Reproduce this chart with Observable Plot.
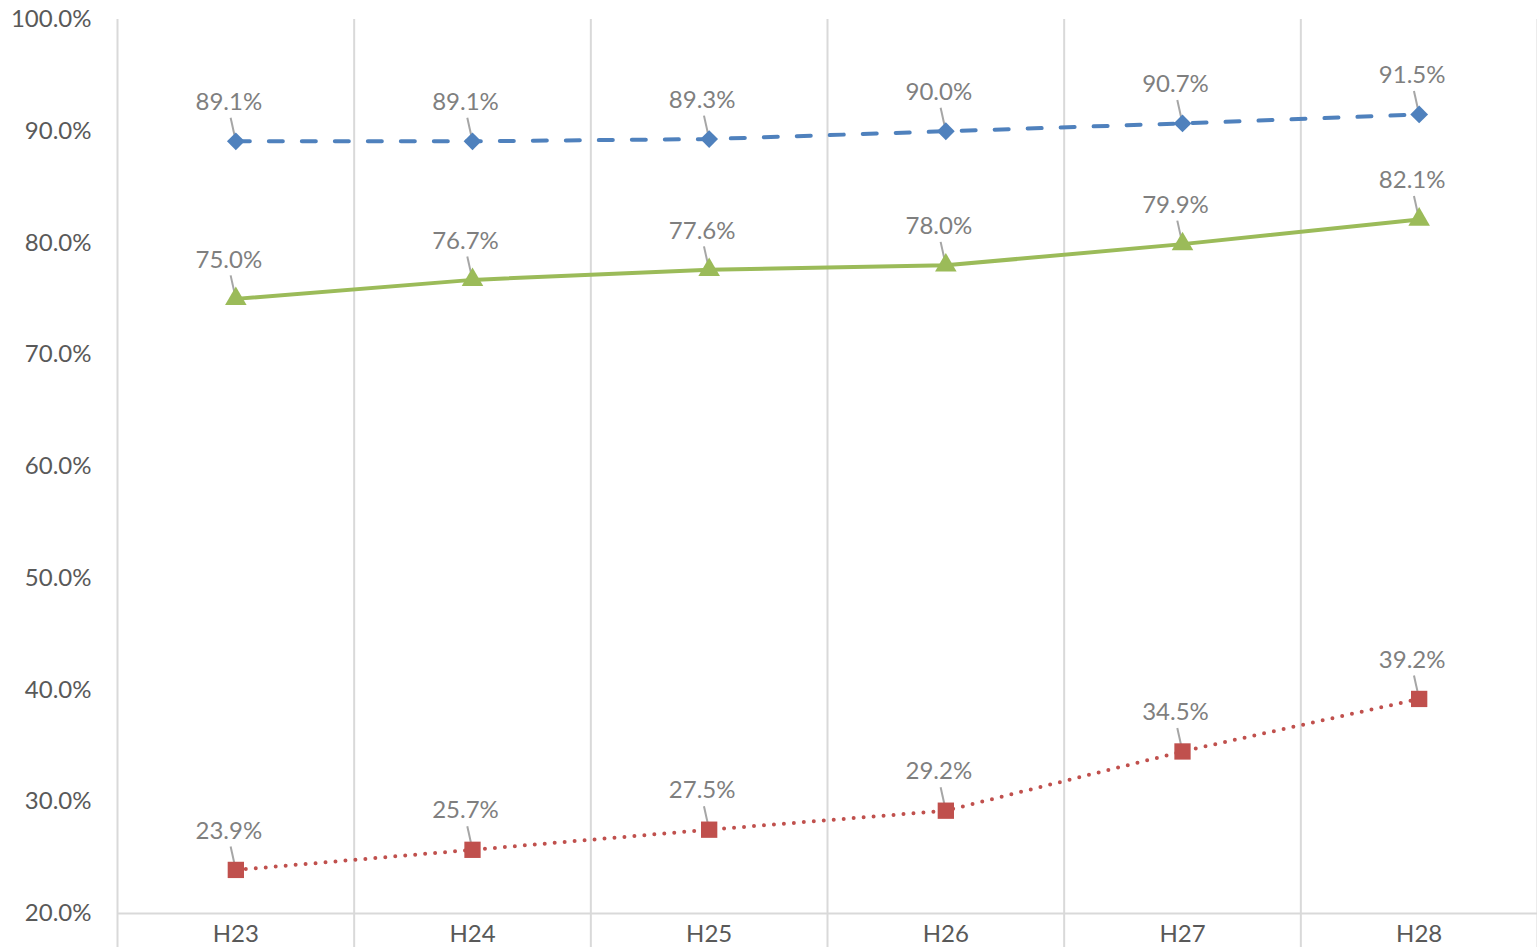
<!DOCTYPE html>
<html>
<head>
<meta charset="utf-8">
<script src="https://cdn.jsdelivr.net/npm/d3@7"></script>
<script src="https://cdn.jsdelivr.net/npm/@observablehq/plot@0.6"></script>
<style>
  html, body { margin: 0; padding: 0; background: #fff; }
  #chart svg { display: block; }
</style>
</head>
<body>
<div id="chart"></div>
<script>
const categories = ["H23", "H24", "H25", "H26", "H27", "H28"];
const seriesBlue = [89.1, 89.1, 89.3, 90.0, 90.7, 91.5];
const seriesGreen = [75.0, 76.7, 77.6, 78.0, 79.9, 82.1];
const seriesRed = [23.9, 25.7, 27.5, 29.2, 34.5, 39.2];
const yTicks = [20, 30, 40, 50, 60, 70, 80, 90, 100];

const series = [
  {name: "blue", values: seriesBlue, color: "#4f81bd", dash: "14 19", symbol: "diamond2", r: 8},
  {name: "green", values: seriesGreen, color: "#9bbb59", dash: null, symbol: "triangle", r: 8},
  {name: "red", values: seriesRed, color: "#c0504d", dash: "0 10", symbol: "square", r: 9.2}
];

const marks = [
  Plot.ruleX(d3.range(categories.length + 1).map(i => i - 0.5), {y1: 100, y2: 16.9, stroke: "#d9d9d9", strokeWidth: 2}),
  Plot.ruleY([20], {x1: -0.5, x2: categories.length - 0.5, stroke: "#d9d9d9", strokeWidth: 2}),
  Plot.text(yTicks, {x: -0.5, y: d => d, dx: -26, textAnchor: "end", text: d => d.toFixed(1) + "%", fill: "#595959", fontSize: 24}),
  Plot.text(categories, {x: (d, i) => i, y: 20, dy: 21, text: d => d, fill: "#595959", fontSize: 24})
];

for (const s of series) {
  const data = s.values.map((v, i) => ({i, v}));
  marks.push(
    Plot.link(data, {x1: d => d.i - 0.022, y1: d => d.v + 2.1, x2: d => d.i, y2: d => d.v, stroke: "#a6a6a6", strokeWidth: 2}),
    Plot.lineY(data, {x: "i", y: "v", stroke: s.color, strokeWidth: 4, strokeDasharray: s.dash, strokeLinecap: "round"}),
    Plot.dot(data, {x: "i", y: "v", symbol: s.symbol, r: s.r, fill: s.color, stroke: "none"}),
    Plot.text(data, {x: "i", y: "v", dx: -7, dy: -39, text: d => d.v.toFixed(1) + "%", fill: "#7f7f7f", fontSize: 24})
  );
}

const chart = Plot.plot({
  width: 1537,
  height: 947,
  marginLeft: 117,
  marginRight: 0,
  marginTop: 19,
  marginBottom: 34,
  style: {fontFamily: "Lato, 'Open Sans', sans-serif", background: "#fff"},
  x: {type: "linear", domain: [-0.5, categories.length - 0.5], axis: null},
  y: {domain: [20, 100], axis: null},
  marks
});
document.getElementById("chart").appendChild(chart);
</script>
</body>
</html>
